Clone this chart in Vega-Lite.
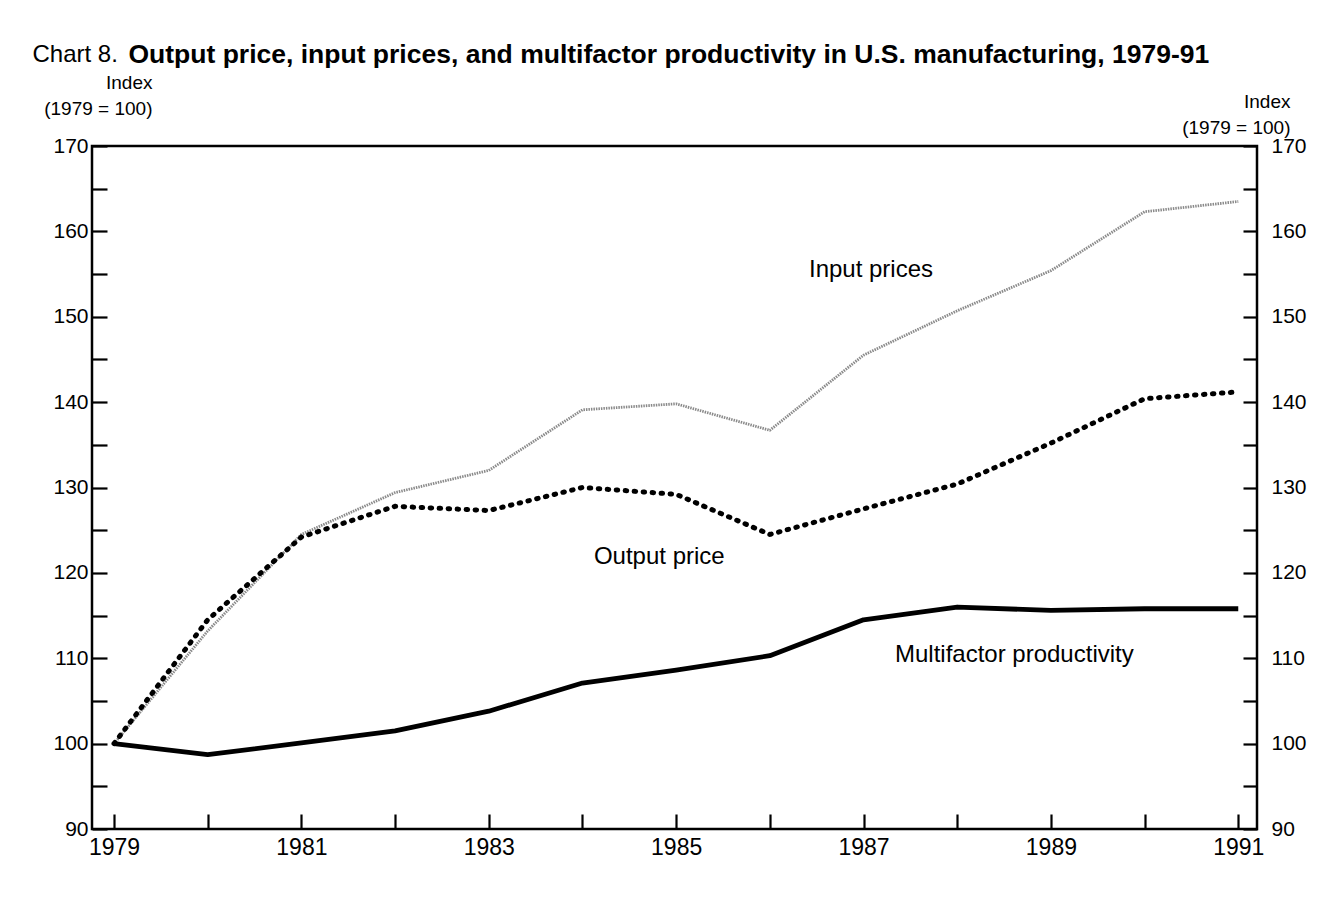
{
  "$schema": "https://vega.github.io/schema/vega-lite/v6.json",
  "width": 1165,
  "height": 683,
  "autosize": {"type": "none"},
  "padding": {"left": 92, "top": 146, "right": 74, "bottom": 70},
  "background": "white",
  "config": {
    "font": "Liberation Sans",
    "view": {"stroke": "black", "strokeWidth": 2.5},
    "axis": {"grid": false, "domain": false, "labelColor": "black", "titleColor": "black", "tickColor": "black", "labelFont": "Liberation Sans", "titleFont": "Liberation Sans"}
  },
  "datasets": {
    "series": [
      {"year": 1979, "series": "Input prices", "value": 100},
      {"year": 1980, "series": "Input prices", "value": 113.2},
      {"year": 1981, "series": "Input prices", "value": 124.5},
      {"year": 1982, "series": "Input prices", "value": 129.4},
      {"year": 1983, "series": "Input prices", "value": 132.0},
      {"year": 1984, "series": "Input prices", "value": 139.1},
      {"year": 1985, "series": "Input prices", "value": 139.8},
      {"year": 1986, "series": "Input prices", "value": 136.7},
      {"year": 1987, "series": "Input prices", "value": 145.5},
      {"year": 1988, "series": "Input prices", "value": 150.7},
      {"year": 1989, "series": "Input prices", "value": 155.4},
      {"year": 1990, "series": "Input prices", "value": 162.3},
      {"year": 1991, "series": "Input prices", "value": 163.5},
      {"year": 1979, "series": "Output price", "value": 100},
      {"year": 1980, "series": "Output price", "value": 114.5},
      {"year": 1981, "series": "Output price", "value": 124.2},
      {"year": 1982, "series": "Output price", "value": 127.8},
      {"year": 1983, "series": "Output price", "value": 127.3},
      {"year": 1984, "series": "Output price", "value": 130.0},
      {"year": 1985, "series": "Output price", "value": 129.2},
      {"year": 1986, "series": "Output price", "value": 124.5},
      {"year": 1987, "series": "Output price", "value": 127.5},
      {"year": 1988, "series": "Output price", "value": 130.4},
      {"year": 1989, "series": "Output price", "value": 135.2},
      {"year": 1990, "series": "Output price", "value": 140.4},
      {"year": 1991, "series": "Output price", "value": 141.2},
      {"year": 1979, "series": "Multifactor productivity", "value": 100},
      {"year": 1980, "series": "Multifactor productivity", "value": 98.7},
      {"year": 1981, "series": "Multifactor productivity", "value": 100.1},
      {"year": 1982, "series": "Multifactor productivity", "value": 101.5},
      {"year": 1983, "series": "Multifactor productivity", "value": 103.8},
      {"year": 1984, "series": "Multifactor productivity", "value": 107.1},
      {"year": 1985, "series": "Multifactor productivity", "value": 108.6},
      {"year": 1986, "series": "Multifactor productivity", "value": 110.3},
      {"year": 1987, "series": "Multifactor productivity", "value": 114.5},
      {"year": 1988, "series": "Multifactor productivity", "value": 116.0},
      {"year": 1989, "series": "Multifactor productivity", "value": 115.6},
      {"year": 1990, "series": "Multifactor productivity", "value": 115.8},
      {"year": 1991, "series": "Multifactor productivity", "value": 115.8}
    ],
    "labels": [
      {"year": 1987.08, "value": 155.5, "text": "Input prices"},
      {"year": 1984.82, "value": 121.9, "text": "Output price"},
      {"year": 1988.61, "value": 110.4, "text": "Multifactor productivity"}
    ]
  },
  "resolve": {"axis": {"x": "independent", "y": "independent"}},
  "layer": [
    {
      "data": {"name": "series"},
      "transform": [{"filter": "datum.series === 'Input prices'"}],
      "mark": {"type": "line", "color": "#8a8a8a", "strokeWidth": 2.8, "strokeDash": [1.5, 1]},
      "encoding": {
        "x": {
          "field": "year", "type": "quantitative",
          "scale": {"domain": [1978.765, 1991.2], "nice": false, "zero": false},
          "axis": {
            "orient": "bottom",
            "values": [1979, 1980, 1981, 1982, 1983, 1984, 1985, 1986, 1987, 1988, 1989, 1990, 1991],
            "labelExpr": "datum.value % 2 === 1 ? format(datum.value, 'd') : ''",
            "labelOverlap": false, "labelFlush": false,
            "tickSize": -15, "tickWidth": 2.2,
            "labelPadding": 22, "labelFontSize": 23,
            "encode": {"ticks": {"update": {"y2": {"signal": "datum.value % 2 === 1 ? -16 : -9"}}}},
            "title": "Chart 8.", "titleX": -60, "titleY": -768, "titleAlign": "left", "titleBaseline": "alphabetic",
            "titleAngle": 0, "titleFontSize": 24, "titleFontWeight": "normal"
          }
        },
        "y": {
          "field": "value", "type": "quantitative",
          "scale": {"domain": [90, 170], "nice": false, "zero": false},
          "axis": {
            "orient": "left",
            "values": [90, 95, 100, 105, 110, 115, 120, 125, 130, 135, 140, 145, 150, 155, 160, 165, 170],
            "labelExpr": "datum.value % 10 === 0 ? format(datum.value, 'd') : ''",
            "labelOverlap": false, "labelFlush": false,
            "tickSize": -15, "tickWidth": 2.2,
            "labelPadding": 19, "labelFontSize": 21, "labelBaseline": "middle",
            "encode": {"ticks": {"update": {"x2": {"signal": "datum.value % 10 === 0 ? 15 : 8"}}}},
            "title": ["Index", "(1979 = 100)"], "titleX": 60, "titleY": -58, "titleAlign": "right", "titleBaseline": "alphabetic",
            "titleAngle": 0, "titleFontSize": 19, "titleFontWeight": "normal", "titleLineHeight": 26
          }
        }
      }
    },
    {
      "data": {"name": "series"},
      "transform": [{"filter": "datum.series === 'Output price'"}],
      "mark": {"type": "line", "color": "black", "strokeWidth": 5, "strokeDash": [1.5, 7.5], "strokeCap": "round"},
      "encoding": {
        "x": {
          "field": "year", "type": "quantitative",
          "scale": {"domain": [1978.765, 1991.2], "nice": false, "zero": false},
          "axis": {
            "orient": "top", "ticks": false, "labels": false,
            "title": "Output price, input prices, and multifactor productivity in U.S. manufacturing, 1979-91",
            "titleX": 36, "titleY": -84, "titleAlign": "left", "titleBaseline": "alphabetic",
            "titleAngle": 0, "titleFontSize": 26.5, "titleFontWeight": "bold"
          }
        },
        "y": {
          "field": "value", "type": "quantitative",
          "scale": {"domain": [90, 170], "nice": false, "zero": false},
          "axis": {
            "orient": "right",
            "values": [90, 95, 100, 105, 110, 115, 120, 125, 130, 135, 140, 145, 150, 155, 160, 165, 170],
            "labelExpr": "datum.value % 10 === 0 ? format(datum.value, 'd') : ''",
            "labelOverlap": false, "labelFlush": false,
            "tickSize": -14, "tickWidth": 2.2,
            "labelPadding": 28, "labelFontSize": 21, "labelBaseline": "middle",
            "encode": {"ticks": {"update": {"x2": {"signal": "datum.value % 10 === 0 ? -14 : -7"}}}},
            "title": ["Index", "(1979 = 100)"], "titleX": 33, "titleY": -39, "titleAlign": "right", "titleBaseline": "alphabetic",
            "titleAngle": 0, "titleFontSize": 19, "titleFontWeight": "normal", "titleLineHeight": 26
          }
        }
      }
    },
    {
      "data": {"name": "series"},
      "transform": [{"filter": "datum.series === 'Multifactor productivity'"}],
      "mark": {"type": "line", "color": "black", "strokeWidth": 4.8, "strokeJoin": "round"},
      "encoding": {
        "x": {"field": "year", "type": "quantitative", "scale": {"domain": [1978.765, 1991.2], "nice": false, "zero": false}, "axis": null},
        "y": {"field": "value", "type": "quantitative", "scale": {"domain": [90, 170], "nice": false, "zero": false}, "axis": null}
      }
    },
    {
      "data": {"name": "labels"},
      "mark": {"type": "text", "font": "Liberation Sans", "fontSize": 24, "color": "black", "align": "center", "baseline": "middle"},
      "encoding": {
        "x": {"field": "year", "type": "quantitative", "scale": {"domain": [1978.765, 1991.2], "nice": false, "zero": false}, "axis": null},
        "y": {"field": "value", "type": "quantitative", "scale": {"domain": [90, 170], "nice": false, "zero": false}, "axis": null},
        "text": {"field": "text"}
      }
    }
  ]
}
